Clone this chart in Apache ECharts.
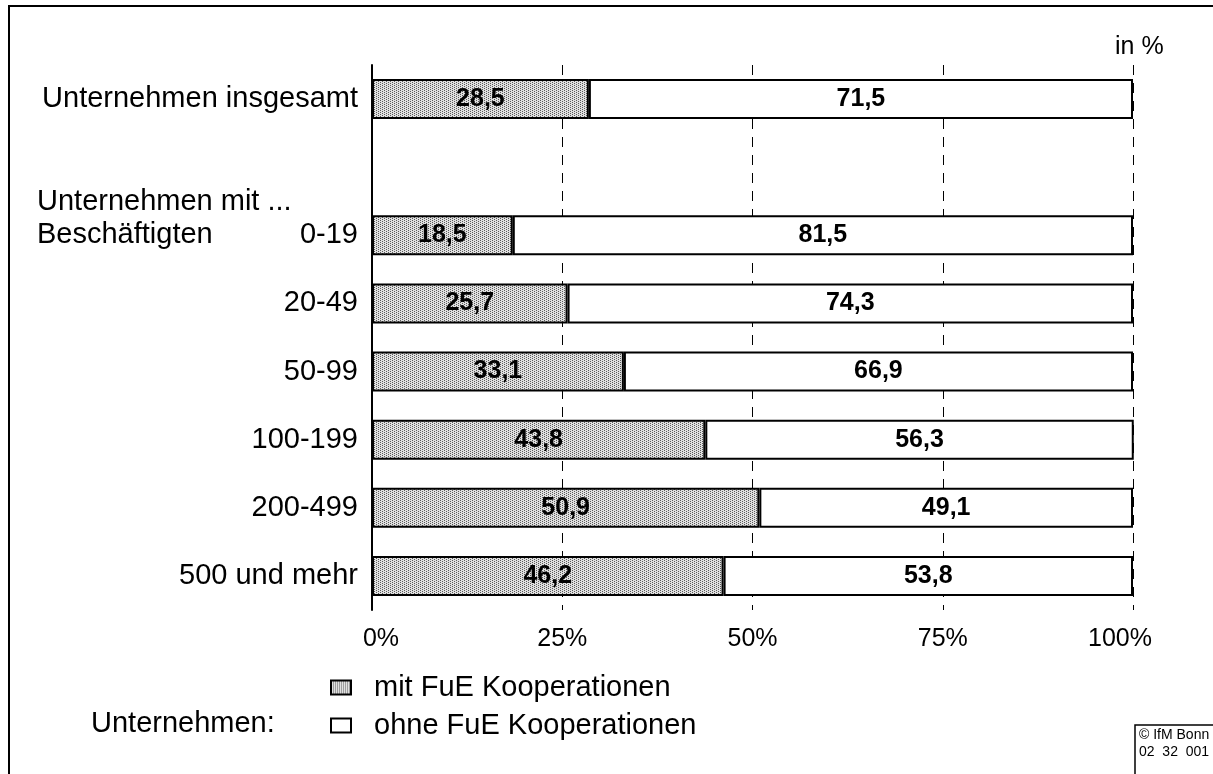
<!DOCTYPE html>
<html>
<head>
<meta charset="utf-8">
<script src="https://cdn.jsdelivr.net/npm/echarts@6/dist/echarts.min.js"></script>
<style>
  html, body { margin: 0; padding: 0; background: #fff; }
  #chart { width: 1213px; height: 774px; }
</style>
</head>
<body>
<div id="chart"></div>
<script>
// Kategorien (leere Zeile trennt "insgesamt" von den Größenklassen)
var categories = ['Unternehmen insgesamt', '', '0-19', '20-49', '50-99', '100-199', '200-499', '500 und mehr'];
// Anteile in %
var mitFuE  = [28.5, '-', 18.5, 25.7, 33.1, 43.8, 50.9, 46.2];
var ohneFuE = [71.5, '-', 81.5, 74.3, 66.9, 56.3, 49.1, 53.8];
var xTicks = [0, 25, 50, 75, 100];

// gepunktetes Füllmuster für "mit FuE Kooperationen"
function makePattern() {
    var c = document.createElement('canvas');
    c.width = 4;
    c.height = 4;
    var ctx = c.getContext('2d');
    ctx.fillStyle = '#e0e0e0';
    ctx.fillRect(0, 0, 4, 4);
    ctx.fillStyle = '#5a5a5a';
    ctx.fillRect(0, 0, 1, 1);
    ctx.fillRect(2, 1, 1, 1);
    ctx.fillRect(0, 2, 1, 1);
    ctx.fillRect(2, 3, 1, 1);
    return c;
}

var myChart = echarts.init(document.getElementById('chart'));
var labelStyle = {
    show: true,
    position: 'inside',
    color: '#000',
    fontFamily: 'Liberation Sans',
    fontWeight: 'bold',
    fontSize: 25,
    formatter: function (p) {
        return String(p.value).replace('.', ',');
    }
};

var option = {
    backgroundColor: '#fff',
    animation: false,
    textStyle: { fontFamily: 'Liberation Sans', color: '#000' },
    grid: { left: 372, right: 80, top: 65, bottom: 164 },
    xAxis: {
        type: 'value',
        min: xTicks[0],
        max: xTicks[xTicks.length - 1],
        interval: 25,
        axisLine: { show: false },
        axisTick: { show: false },
        axisLabel: {
            fontSize: 25,
            color: '#000',
            margin: 17,
            // erstes und letztes Label etwas nach innen gerückt
            formatter: function (v) {
                if (v === xTicks[0]) return '{first|' + v + '%}';
                if (v === xTicks[xTicks.length - 1]) return '{last|' + v + '%}';
                return v + '%';
            },
            rich: {
                first: { fontSize: 25, color: '#000', padding: [0, 0, 0, 18] },
                last: { fontSize: 25, color: '#000', padding: [0, 26, 0, 0] }
            }
        },
        splitLine: { show: true, lineStyle: { color: '#000', width: 1, type: [10, 8] } }
    },
    yAxis: {
        type: 'category',
        inverse: true,
        data: categories,
        axisLine: { show: true, lineStyle: { color: '#000', width: 2 } },
        axisTick: { show: false },
        axisLabel: { fontSize: 29, color: '#000', margin: 14 }
    },
    legend: {
        orient: 'vertical',
        left: 325,
        top: 668,
        itemWidth: 20,
        itemHeight: 14,
        itemGap: 9,
        icon: 'rect',
        itemStyle: { borderColor: '#000', borderWidth: 2 },
        textStyle: { fontSize: 29, color: '#000', padding: [0, 0, 0, 18] },
        data: ['mit FuE Kooperationen', 'ohne FuE Kooperationen']
    },
    series: [
        {
            name: 'mit FuE Kooperationen',
            type: 'bar',
            stack: 'fue',
            barWidth: 40,
            itemStyle: {
                color: { image: makePattern(), repeat: 'repeat' },
                borderColor: '#000',
                borderWidth: 2
            },
            label: labelStyle,
            data: mitFuE
        },
        {
            name: 'ohne FuE Kooperationen',
            type: 'bar',
            stack: 'fue',
            barWidth: 40,
            itemStyle: { color: '#fff', borderColor: '#000', borderWidth: 2 },
            label: labelStyle,
            data: ohneFuE
        }
    ],
    graphic: [
        { type: 'rect', shape: { x: 9, y: 6, width: 1300, height: 900 }, style: { fill: 'none', stroke: '#000', lineWidth: 2 }, silent: true },
        { type: 'text', left: 1115, top: 35, style: { text: 'in %', fontSize: 25, fill: '#000', fontFamily: 'Liberation Sans' } },
        { type: 'text', left: 37, top: 187, style: { text: 'Unternehmen mit ...', fontSize: 29, fill: '#000', fontFamily: 'Liberation Sans' } },
        { type: 'text', left: 37, top: 220, style: { text: 'Beschäftigten', fontSize: 29, fill: '#000', fontFamily: 'Liberation Sans' } },
        { type: 'text', left: 91, top: 709, style: { text: 'Unternehmen:', fontSize: 29, fill: '#000', fontFamily: 'Liberation Sans' } },
        { type: 'rect', shape: { x: 1135, y: 725, width: 90, height: 60 }, style: { fill: '#fff', stroke: '#000', lineWidth: 1.5 } },
        { type: 'text', left: 1139, top: 728, style: { text: '© IfM Bonn', fontSize: 14, fill: '#000', fontFamily: 'Liberation Sans' } },
        { type: 'text', left: 1139, top: 745, style: { text: '02  32  001', fontSize: 14, fill: '#000', fontFamily: 'Liberation Sans' } }
    ]
};
myChart.setOption(option);
</script>
</body>
</html>
